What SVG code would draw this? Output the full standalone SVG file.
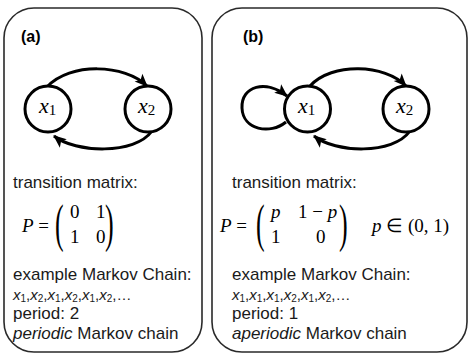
<svg xmlns="http://www.w3.org/2000/svg" width="473" height="355" viewBox="0 0 473 355">
<style>
.panel{fill:#fff;stroke:#2a2a2a;stroke-width:1.6}
.node{fill:#fff;stroke:#000;stroke-width:3}
.edge{fill:none;stroke:#000;stroke-width:3}
.lab{font-family:"Liberation Serif",serif;font-style:italic;font-size:22px;fill:#000}
.sub{font-style:normal;font-size:15px}
.txt{font-family:"Liberation Sans",Arial,sans-serif;font-size:17px;fill:#1a1a1a}
.seq{font-family:"Liberation Sans",Arial,sans-serif;font-size:15px;fill:#1a1a1a}
.math{font-family:"Liberation Serif",serif;font-size:19px;fill:#000}
.it{font-style:italic}
.par{font-family:"Liberation Serif",serif;font-size:52px;fill:#000}
.title{font-family:"Liberation Sans",Arial,sans-serif;font-size:16px;font-weight:bold;fill:#000}
</style>
<defs>
<marker id="arr" markerUnits="userSpaceOnUse" markerWidth="16" markerHeight="14" refX="13" refY="7" orient="auto">
<path d="M1,1.5 L14,7 L1,12.5 L4,7 z" fill="#000"/>
</marker>
</defs>

<g id="panel-a">
<rect class="panel" x="4" y="8" width="198" height="344" rx="30" ry="30"/>
<text class="title" x="21" y="42">(a)</text>
</g>
<g id="panel-b">
<rect class="panel" x="212" y="8" width="255" height="344" rx="30" ry="30"/>
<text class="title" x="243" y="42">(b)</text>
</g>

<g id="connectors">
<path class="edge" d="M47,87 C70,62 125,64 147,86" marker-end="url(#arr)"/>
<path class="edge" d="M152,131 C135,155 75,153 54,136" marker-end="url(#arr)"/>
<path class="edge" d="M310,86 C332,62 385,64 406,86" marker-end="url(#arr)"/>
<path class="edge" d="M410,131 C393,155 335,153 314,136" marker-end="url(#arr)"/>
<path class="edge" d="M286,122 C270,135 243,130 242,108 C241,86 266,79 287,96" marker-end="url(#arr)"/>
</g>

<g id="a-x1">
<circle class="node" cx="48" cy="109" r="23"/>
<text class="lab" x="39" y="113">x<tspan class="sub" dy="2">1</tspan></text>
</g>
<g id="a-x2">
<circle class="node" cx="148" cy="109" r="23"/>
<text class="lab" x="138" y="113">x<tspan class="sub" dy="2">2</tspan></text>
</g>
<g id="b-x1">
<circle class="node" cx="307.5" cy="109" r="23"/>
<text class="lab" x="298" y="113">x<tspan class="sub" dy="2">1</tspan></text>
</g>
<g id="b-x2">
<circle class="node" cx="406" cy="109" r="23"/>
<text class="lab" x="396" y="113">x<tspan class="sub" dy="2">2</tspan></text>
</g>

<g id="text-a">
<text class="txt" x="13" y="188">transition matrix:</text>
<text class="math" x="22" y="232"><tspan class="it">P</tspan> =</text>
<text class="par" transform="translate(55,241) scale(0.5,1)">(</text>
<text class="math" x="70" y="218">0</text>
<text class="math" x="96" y="218">1</text>
<text class="math" x="70" y="243">1</text>
<text class="math" x="96" y="243">0</text>
<text class="par" transform="translate(105,241) scale(0.5,1)">)</text>
<text class="txt" x="13" y="280">example Markov Chain:</text>
<text class="seq" x="13" y="300"><tspan class="it">x</tspan><tspan font-size="10" dy="2">1</tspan><tspan dy="-2">,</tspan><tspan class="it">x</tspan><tspan font-size="10" dy="2">2</tspan><tspan dy="-2">,</tspan><tspan class="it">x</tspan><tspan font-size="10" dy="2">1</tspan><tspan dy="-2">,</tspan><tspan class="it">x</tspan><tspan font-size="10" dy="2">2</tspan><tspan dy="-2">,</tspan><tspan class="it">x</tspan><tspan font-size="10" dy="2">1</tspan><tspan dy="-2">,</tspan><tspan class="it">x</tspan><tspan font-size="10" dy="2">2</tspan><tspan dy="-2">,…</tspan></text>
<text class="txt" x="13" y="319">period: 2</text>
<text class="txt" x="13" y="339"><tspan class="it">periodic</tspan> Markov chain</text>
</g>

<g id="text-b">
<text class="txt" x="232" y="188">transition matrix:</text>
<text class="math" x="220" y="232"><tspan class="it">P</tspan> =</text>
<text class="par" transform="translate(256,241) scale(0.5,1)">(</text>
<text class="math it" x="271" y="218">p</text>
<text class="math" x="298" y="218">1 − <tspan class="it">p</tspan></text>
<text class="math" x="271" y="243">1</text>
<text class="math" x="316" y="243">0</text>
<text class="par" transform="translate(339,241) scale(0.5,1)">)</text>
<text class="math" x="372" y="232"><tspan class="it">p</tspan> ∈ (0, 1)</text>
<text class="txt" x="232" y="280">example Markov Chain:</text>
<text class="seq" x="232" y="300"><tspan class="it">x</tspan><tspan font-size="10" dy="2">1</tspan><tspan dy="-2">,</tspan><tspan class="it">x</tspan><tspan font-size="10" dy="2">1</tspan><tspan dy="-2">,</tspan><tspan class="it">x</tspan><tspan font-size="10" dy="2">1</tspan><tspan dy="-2">,</tspan><tspan class="it">x</tspan><tspan font-size="10" dy="2">2</tspan><tspan dy="-2">,</tspan><tspan class="it">x</tspan><tspan font-size="10" dy="2">1</tspan><tspan dy="-2">,</tspan><tspan class="it">x</tspan><tspan font-size="10" dy="2">2</tspan><tspan dy="-2">,…</tspan></text>
<text class="txt" x="232" y="319">period: 1</text>
<text class="txt" x="232" y="339"><tspan class="it">aperiodic</tspan> Markov chain</text>
</g>
</svg>
